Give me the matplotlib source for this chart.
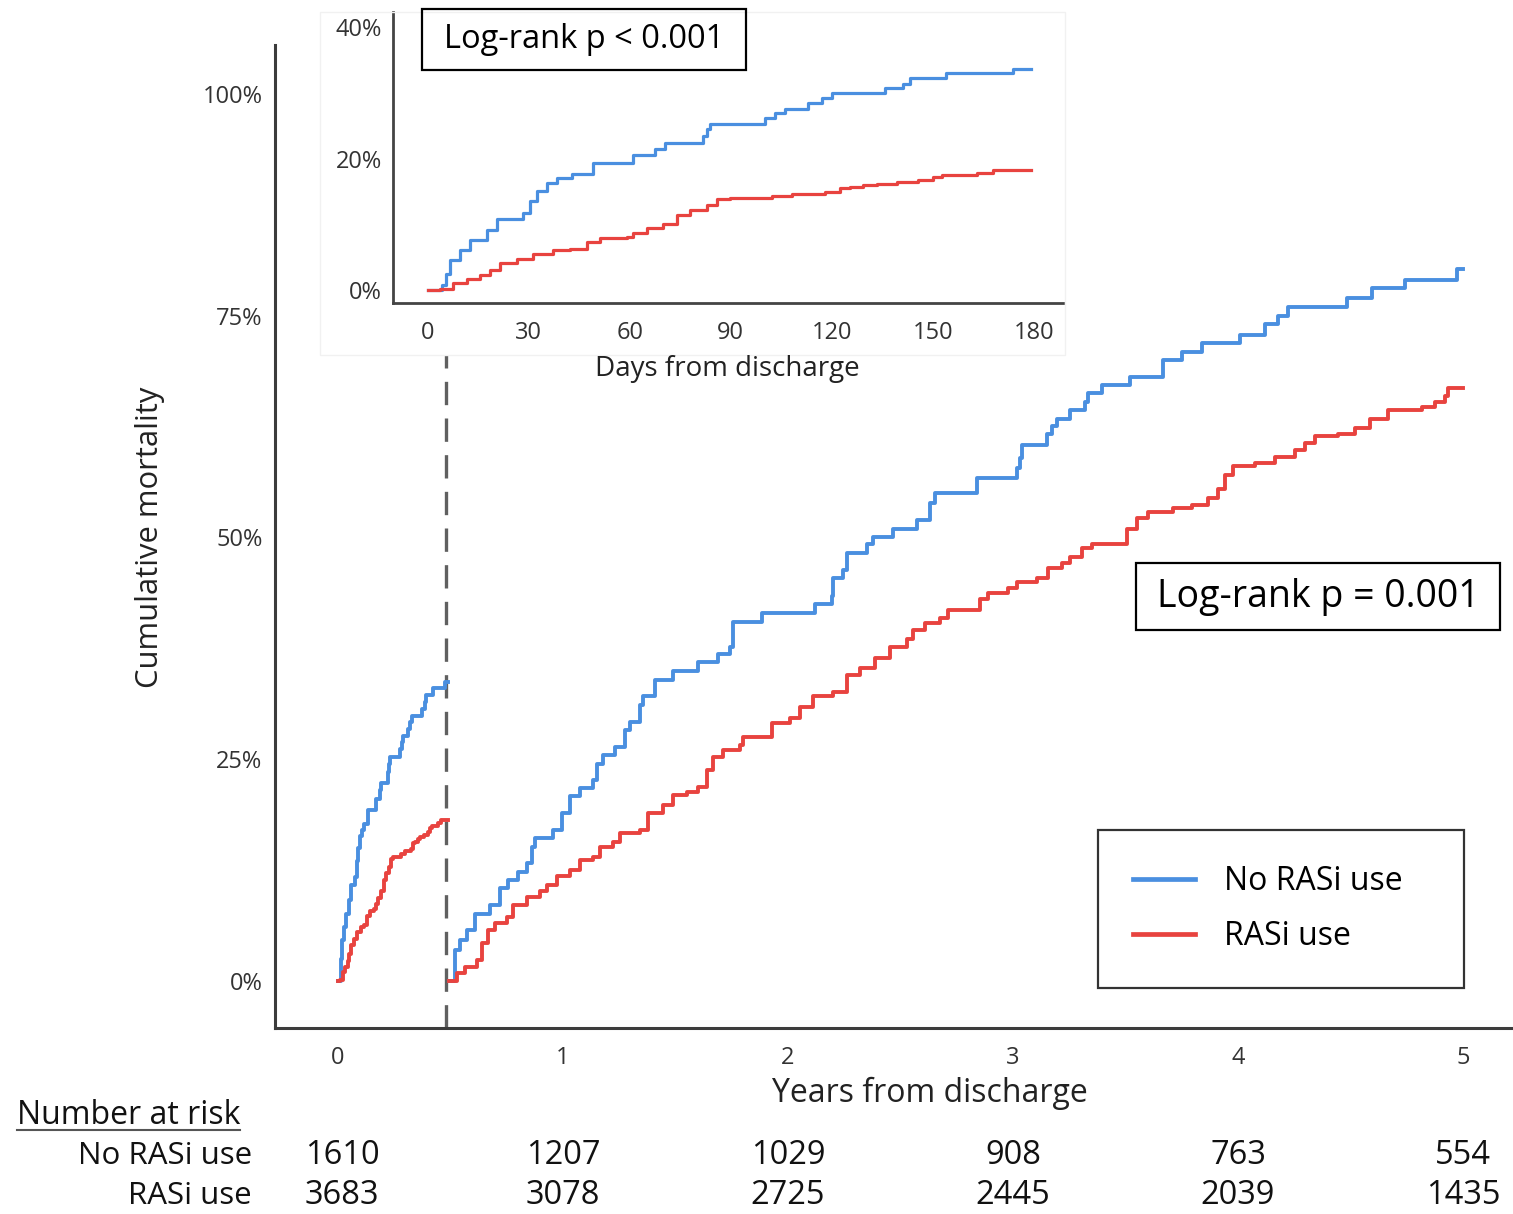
import numpy as np
import matplotlib
matplotlib.use("Agg")
import matplotlib.pyplot as plt
from matplotlib.patches import Rectangle
from matplotlib.lines import Line2D
from matplotlib import transforms

plt.rcParams['font.family'] = ['Open Sans', 'DejaVu Sans']

# ---------------------------------------------------------------- data
# Early period: days from discharge vs cumulative mortality (%)
early_days_no_rasi = [0, 4.2, 5.5, 6.7, 9.6, 12.6, 17.6, 20.5, 28.4, 30.5, 32.5,
                      35.5, 38.3, 42.8, 49.2, 61.1, 67.5, 70.5, 81.8, 83.0, 83.8,
                      100.1, 103.1, 106.1, 113.0, 117.0, 120.0, 135.8, 141.2,
                      143.2, 154.0, 173.8, 179.0]
early_pct_no_rasi = [0, 0.8, 2.5, 4.6, 6.1, 7.6, 9.1, 10.8, 11.7, 13.5, 15.0,
                     16.3, 17.0, 17.7, 19.3, 20.5, 21.5, 22.3, 23.5, 24.5, 25.3,
                     26.1, 26.9, 27.6, 28.4, 29.2, 29.9, 30.7, 31.4,
                     32.2, 33.0, 33.7, 33.7]

early_days_rasi = [0, 3.7, 7.7, 11.6, 15.6, 18.5, 21.5, 26.5, 31.4, 37.3, 42.3,
                   47.2, 51.3, 59.1, 61.1, 65.0, 70.0, 73.9, 77.9, 82.8, 85.8,
                   89.8, 102.1, 108.1, 118.0, 122.4, 125.4, 129.3, 133.3, 139.2,
                   145.6, 150.1, 152.6, 163.0, 167.9, 179.0]
early_pct_rasi = [0, 0.1, 1.0, 1.6, 2.3, 3.0, 4.1, 4.7, 5.5, 6.1, 6.3,
                  7.3, 7.9, 8.1, 8.7, 9.4, 10.1, 11.4, 12.2, 12.9, 13.8,
                  14.0, 14.3, 14.6, 14.9, 15.5, 15.7, 16.0, 16.2, 16.5,
                  16.8, 17.2, 17.5, 17.8, 18.2, 18.2]

landmark_days = 180

# Landmark period: years from discharge vs cumulative mortality (%)
late_years_no_rasi = [0.493, 0.520, 0.542, 0.572, 0.609, 0.676, 0.720, 0.757, 0.801,
                      0.839, 0.861, 0.876, 0.957, 0.994, 1.031, 1.076, 1.135, 1.150,
                      1.179, 1.231, 1.276, 1.298, 1.342, 1.357, 1.409, 1.490, 1.601,
                      1.690, 1.742, 1.757, 1.883, 2.120, 2.194, 2.201, 2.246, 2.261,
                      2.350, 2.379, 2.468, 2.572, 2.631, 2.653, 2.839, 3.016, 3.031,
                      3.039, 3.150, 3.172, 3.194, 3.253, 3.320, 3.335, 3.394, 3.520,
                      3.668, 3.750, 3.839, 4.009, 4.120, 4.179, 4.224, 4.483, 4.594,
                      4.742, 4.972, 5.0]
late_pct_no_rasi = [0, 3.5, 4.6, 5.7, 7.6, 8.6, 10.5, 11.4, 12.3,
                    13.3, 15.1, 16.1, 17.0, 18.9, 20.8, 21.7, 22.7, 24.5,
                    25.5, 26.4, 28.3, 29.2, 31.1, 32.1, 33.9, 34.9, 35.9,
                    36.9, 37.7, 40.5, 41.5, 42.5, 43.4, 45.4, 46.3, 48.2,
                    49.2, 50.1, 51.0, 52.0, 53.9, 55.0, 56.7, 57.8, 58.9,
                    60.4, 61.6, 62.5, 63.4, 64.4, 65.3, 66.3, 67.2, 68.1,
                    70.0, 70.9, 71.9, 72.8, 74.0, 74.9, 76.0, 77.0, 78.1,
                    79.0, 80.3, 80.3]

late_years_rasi = [0.493, 0.528, 0.564, 0.616, 0.639, 0.668, 0.698, 0.750, 0.779,
                   0.839, 0.898, 0.928, 0.972, 1.031, 1.076, 1.135, 1.164, 1.224,
                   1.253, 1.342, 1.379, 1.446, 1.490, 1.550, 1.601, 1.639, 1.668,
                   1.712, 1.787, 1.801, 1.927, 2.009, 2.053, 2.112, 2.201, 2.261,
                   2.320, 2.387, 2.453, 2.527, 2.557, 2.609, 2.676, 2.712, 2.853,
                   2.890, 2.979, 3.016, 3.105, 3.157, 3.216, 3.253, 3.305, 3.350,
                   3.505, 3.550, 3.601, 3.712, 3.794, 3.868, 3.912, 3.942, 3.979,
                   4.076, 4.164, 4.253, 4.298, 4.342, 4.446, 4.520, 4.587, 4.668,
                   4.816, 4.876, 4.920, 4.935, 5.0]
late_pct_rasi = [0, 0.9, 1.6, 2.4, 4.3, 5.7, 6.5, 7.2, 8.6,
                 9.5, 10.1, 10.8, 11.8, 12.5, 13.6, 14.0, 15.1, 15.7,
                 16.7, 17.0, 18.9, 19.8, 21.0, 21.3, 21.9, 23.8, 25.3,
                 26.0, 26.6, 27.5, 29.1, 29.6, 30.9, 32.1, 32.6, 34.5,
                 35.3, 36.4, 37.7, 38.6, 39.6, 40.3, 40.9, 41.8, 43.1,
                 43.7, 44.3, 45.0, 45.4, 46.5, 47.1, 47.8, 48.8, 49.2,
                 51.0, 52.2, 52.9, 53.3, 53.7, 54.4, 55.5, 57.0, 58.0,
                 58.4, 59.1, 59.9, 60.6, 61.4, 61.7, 62.3, 63.4, 64.4,
                 64.7, 65.3, 65.9, 66.8, 66.8]

group_labels = ['No RASi use', 'RASi use']
risk_years = [0, 1, 2, 3, 4, 5]
risk_no_rasi = [1610, 1207, 1029, 908, 763, 554]
risk_rasi = [3683, 3078, 2725, 2445, 2039, 1435]

main_yticks = [0, 25, 50, 75, 100]
inset_xticks = [0, 30, 60, 90, 120, 150, 180]
inset_yticks = [0, 20, 40]

# ---------------------------------------------------------------- style
W, H = 1513, 1214
BLUE = '#4a8fe0'
RED = '#e8433f'
SPINE = '#3c3c3c'
TICK = '#333333'
TXT = '#111111'


def fx(px):
    return px / W


def fy(py):
    return 1 - py / H


fig = plt.figure(figsize=(W / 100, H / 100), dpi=100)
fig.patch.set_facecolor('white')

# ---------------------------------------------------------------- main axes
ax = fig.add_axes([fx(275), fy(1028), fx(1513) - fx(275), fy(45) - fy(1028)])
ax.set_xlim(-0.28, 5.222)
ax.set_ylim(-5.3, 105.5)
for s in ['top', 'right']:
    ax.spines[s].set_visible(False)
for s in ['left', 'bottom']:
    ax.spines[s].set_color(SPINE)
    ax.spines[s].set_linewidth(2.2)
ax.set_xticks(risk_years)
ax.set_yticks(main_yticks)
ax.set_yticklabels([f'{v}%' for v in main_yticks])
ax.tick_params(axis='both', length=0, labelsize=17, colors=TICK)
ax.tick_params(axis='y', pad=9)
ax.tick_params(axis='x', pad=13)

landmark_years = landmark_days / 365.25
lw_main = 2.8
ax.step(np.array(early_days_no_rasi) / 365.25, early_pct_no_rasi, where='post',
        color=BLUE, lw=lw_main, label=group_labels[0])
ax.step(np.array(early_days_rasi) / 365.25, early_pct_rasi, where='post',
        color=RED, lw=lw_main, label=group_labels[1])
ax.step(late_years_no_rasi, late_pct_no_rasi, where='post', color=BLUE, lw=lw_main)
ax.step(late_years_rasi, late_pct_rasi, where='post', color=RED, lw=lw_main)

ax.axvline(landmark_years - 0.012, ymin=0, ymax=(70.6 + 5.3) / (105.5 + 5.3),
           color='#606060', lw=2.4, dashes=(7, 4), zorder=1)

leg = ax.legend(loc='upper left', bbox_to_anchor=(fx(1098), fy(830), fx(1464) - fx(1098), 0),
                bbox_transform=fig.transFigure, mode='expand', borderaxespad=0,
                fontsize=23, frameon=True, fancybox=False, handlelength=1.95,
                handletextpad=0.88, labelspacing=0.68, borderpad=1.1)
leg.get_frame().set_edgecolor('black')
leg.get_frame().set_linewidth(1.6)
for line in leg.get_lines():
    line.set_linewidth(3.4)

# ---------------------------------------------------------------- inset
fig.add_artist(Rectangle((fx(320), fy(355)), fx(1065) - fx(320), fy(12) - fy(355),
                         transform=fig.transFigure, fill=False,
                         edgecolor='#f1f1f1', lw=1.0))
axi = fig.add_axes([fx(393), fy(303), (1063 - 393) / W, (303 - 12) / H])
axi.set_xlim(-10.24, 188.6)
axi.set_ylim(-1.98, 42.3)
axi.patch.set_alpha(0)
for s in ['top', 'right']:
    axi.spines[s].set_visible(False)
for s in ['left', 'bottom']:
    axi.spines[s].set_color('#444444')
    axi.spines[s].set_linewidth(2.0)
axi.set_xticks(inset_xticks)
axi.set_yticks(inset_yticks)
axi.set_yticklabels([f'{v}%' for v in inset_yticks])
axi.tick_params(axis='both', length=0, labelsize=17, colors=TICK)
axi.tick_params(axis='y', pad=8)
axi.tick_params(axis='x', pad=13)
axi.step(early_days_no_rasi, early_pct_no_rasi, where='post', color=BLUE, lw=2.3)
axi.step(early_days_rasi, early_pct_rasi, where='post', color=RED, lw=2.3)

# ---------------------------------------------------------------- text
fig.text(fx(150), fy(537), 'Cumulative mortality', rotation=90, ha='center', va='center',
         fontsize=22.3, color='#222222')
fig.text(fx(930), fy(1093), 'Years from discharge', ha='center', va='center',
         fontsize=23, color='#222222')
fig.text(fx(727), fy(369), 'Days from discharge', ha='center', va='center',
         fontsize=20, color='#222222')

# log-rank boxes
for (x0, y0, x1, y1, txt, fs) in [(422, 9, 746, 70, 'Log-rank p < 0.001', 23.5),
                                  (1136, 563, 1500, 630, 'Log-rank p = 0.001', 27)]:
    fig.add_artist(Rectangle((fx(x0), fy(y1)), fx(x1) - fx(x0), fy(y0) - fy(y1),
                             transform=fig.transFigure, fill=False,
                             edgecolor='black', lw=1.6))
    fig.text(fx((x0 + x1) / 2), fy((y0 + y1) / 2), txt, ha='center', va='center',
             fontsize=fs, color='black')

# ---------------------------------------------------------------- number at risk
fig.text(fx(17), fy(1115), 'Number at risk', ha='left', va='center',
         fontsize=23, color=TXT)
fig.add_artist(Line2D([fx(17), fx(240)], [fy(1130), fy(1130)],
                      transform=fig.transFigure, color='#555555', lw=1.5))
row_y = [1156, 1196]
mix = transforms.blended_transform_factory(ax.transData, fig.transFigure)
for label, counts, yy in zip(group_labels, [risk_no_rasi, risk_rasi], row_y):
    fig.text(fx(252), fy(yy), label, ha='right', va='center', fontsize=22.5,
             color=TXT)
    for t, n in zip(risk_years, counts):
        ax.text(t + (0.018 if t == 0 else 0.0), fy(yy), f'{n}', transform=mix,
                ha='center', va='center', fontsize=23.5, color=TXT,
                clip_on=False)

fig.savefig('out.png', dpi=100, facecolor='white')
